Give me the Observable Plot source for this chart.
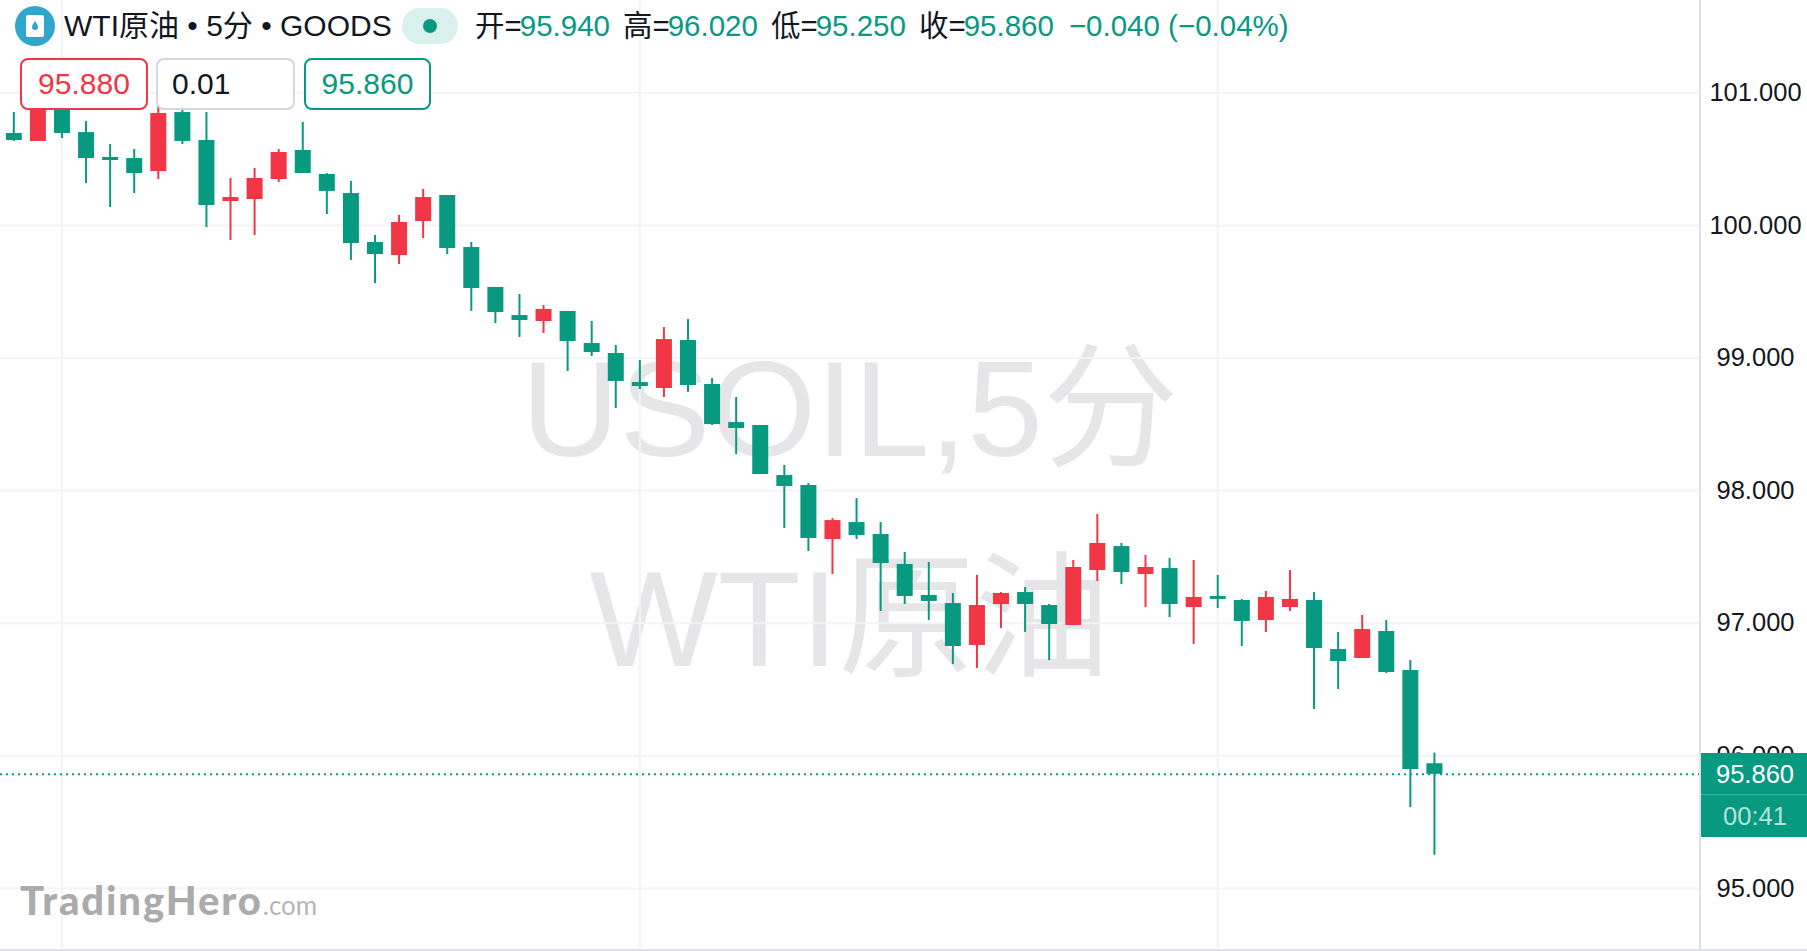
<!DOCTYPE html>
<html><head><meta charset="utf-8">
<script src="https://cdn.jsdelivr.net/npm/d3@7"></script>
<script src="https://cdn.jsdelivr.net/npm/@observablehq/plot@0.6"></script>
<style>
html,body{margin:0;padding:0;background:#fff;overflow:hidden}
#root{position:relative;width:1807px;height:951px;font-family:"Liberation Sans","Noto Sans CJK SC",sans-serif;overflow:hidden}
#root>*{position:absolute}
.wm{color:#e6e6e8;font-size:136px;line-height:136px;white-space:nowrap;z-index:0;left:0;width:1700px;text-align:center}
#chart{left:0;top:0;z-index:1}
.hdr{font-size:29.5px;line-height:36px;white-space:nowrap;z-index:2;color:#131722}
.hdr i{font-style:normal;margin-left:13px}
.hdr .n{margin-left:-2px}
.g{color:#089981}
.box{z-index:2;box-sizing:border-box;height:52px;border-radius:8px;border:2px solid;font-size:30px;line-height:48px;background:#fff;top:58px}
</style></head><body><div id="root">
<div class="wm" style="top:341px">USOIL,5分</div>
<div class="wm" style="top:551px">WTI原油</div>
<div id="chart"></div>
<svg style="left:15px;top:6px;z-index:2" width="40" height="40" viewBox="0 0 40 40"><circle cx="20" cy="20" r="20" fill="#2fa6cc"/><rect x="11" y="9" width="18" height="22" rx="2" fill="#fff"/><path d="M20 15c2 3 3 4.500 3 6a3 3 0 0 1-6 0c0-1.500 1-3 3-6z" fill="#2fa6cc"/></svg>
<div class="hdr" style="left:64px;top:8px;font-size:30px">WTI原油 • 5分 • GOODS</div>
<div style="left:402px;top:8px;width:56px;height:36px;border-radius:18px;background:#d9f0ec;z-index:2"></div>
<div style="left:423px;top:19px;width:14px;height:14px;border-radius:7px;background:#089981;z-index:2"></div>
<div class="hdr" style="left:475px;top:8px">开=<span class="g n">95.940</span><i>高=</i><span class="g n">96.020</span><i>低=</i><span class="g n">95.250</span><i>收=</i><span class="g n">95.860</span><i class="g" style="margin-left:15px">−0.040 (−0.04%)</i></div>
<div class="box" style="left:20px;width:128px;border-color:#f23645;color:#f23645;text-align:center">95.880</div>
<div class="box" style="left:156px;width:139px;border-color:#d6d6e2;color:#131722;padding-left:14px">0.01</div>
<div class="box" style="left:304px;width:127px;border-color:#089981;color:#089981;text-align:center">95.860</div>
<div style="left:1701px;top:753px;width:106px;height:41px;padding-left:2px;box-sizing:border-box;background:#089981;color:#fff;font-size:25.5px;line-height:42px;text-align:center;z-index:2">95.860</div>
<div style="left:1701px;top:794px;width:106px;height:43px;padding-left:2px;background:#089981;border-top:1px solid #3bb09b;box-sizing:border-box;color:#b5e2da;font-size:25.5px;line-height:42px;text-align:center;z-index:2">00:41</div>
<div style="left:20px;top:876px;z-index:2;white-space:nowrap;font-family:Lato,sans-serif;font-weight:900;font-size:40px;letter-spacing:1.9px;line-height:48px;color:#ababab">TradingHero<span style="font-size:26px;letter-spacing:0;font-weight:400;color:#b5b5b5">.com</span></div>
</div>
<script>
const grays = [2,26,50];
const priceTicks = [95,96,97,98,99,100,101];
const lastClose = 95.86;
// open, high, low, close for each bar
const opens  = [100.693,100.633,100.942,100.700,100.512,100.504,100.406,100.851,100.640,100.180,100.195,100.346,100.565,100.384,100.240,99.871,99.773,100.029,100.225,99.833,99.532,99.320,99.275,99.351,99.109,99.034,98.815,98.770,99.132,98.800,98.513,98.491,98.114,98.038,97.631,97.759,97.669,97.443,97.209,97.148,96.832,97.141,97.231,97.133,96.982,97.397,97.578,97.367,97.412,97.118,97.201,97.171,97.020,97.118,97.171,96.801,96.734,96.937,96.643,95.940];
const highs  = [100.851,100.972,100.972,100.783,100.610,100.572,100.897,100.897,100.851,100.354,100.429,100.572,100.776,100.391,100.331,99.924,100.075,100.271,100.225,99.871,99.532,99.479,99.396,99.351,99.275,99.094,98.981,99.230,99.290,98.845,98.702,98.491,98.189,98.053,97.789,97.940,97.759,97.533,97.458,97.224,97.360,97.231,97.269,97.141,97.473,97.820,97.601,97.510,97.488,97.473,97.360,97.179,97.239,97.397,97.231,96.930,97.058,97.020,96.718,96.020];
const lows   = [100.633,100.633,100.655,100.316,100.135,100.240,100.346,100.610,99.984,99.886,99.924,100.323,100.391,100.082,99.735,99.562,99.705,99.901,99.780,99.351,99.260,99.155,99.185,98.898,99.011,98.619,98.762,98.702,98.740,98.491,98.272,98.121,97.714,97.541,97.367,97.631,97.088,97.141,97.020,96.688,96.658,96.960,96.930,96.718,96.982,97.314,97.292,97.118,97.043,96.839,97.111,96.824,96.930,97.088,96.349,96.500,96.734,96.620,95.610,95.250];
const closes = [100.640,100.942,100.693,100.504,100.489,100.391,100.844,100.633,100.150,100.210,100.354,100.550,100.391,100.256,99.863,99.780,100.022,100.210,99.826,99.524,99.343,99.283,99.366,99.124,99.041,98.823,98.785,99.139,98.792,98.498,98.468,98.121,98.031,97.639,97.774,97.661,97.450,97.201,97.164,96.824,97.133,97.224,97.141,96.990,97.420,97.601,97.382,97.420,97.141,97.194,97.179,97.013,97.194,97.179,96.809,96.711,96.952,96.628,95.897,95.860];
const green = "#089981", red = "#f23645", grid = "#f3f3f8", edge = "#e0e0ea";
const bars = opens.map((o,i)=>({i,o,h:highs[i],l:lows[i],c:closes[i],col:closes[i]>o?red:green}));
const plot = Plot.plot({
  width:1807,height:951,margin:0,marginRight:107,
  style:{background:"transparent",fontFamily:'"Liberation Sans",sans-serif',fontSize:"25.5px",color:"#131722"},
  x:{domain:[-0.553,70.05],axis:null},
  y:{domain:[94.524,101.696]},
  marks:[
    Plot.ruleY(priceTicks,{stroke:grid,strokeWidth:2}),
    Plot.ruleX(grays,{stroke:grid,strokeWidth:2}),
    Plot.ruleY([lastClose],{stroke:green,strokeWidth:2,strokeDasharray:"2,4"}),
    Plot.axisY({anchor:"right",ticks:priceTicks,tickSize:0,tickPadding:10,tickFormat:d3.format(".3f"),label:null,textAnchor:"middle",dx:45}),
    Plot.ruleX(bars,{x:"i",y1:"l",y2:"h",stroke:"col",strokeWidth:2}),
    Plot.ruleX(bars,{x:"i",y1:"o",y2:"c",stroke:"col",strokeWidth:16})
  ]
});
document.getElementById("chart").append(plot);
const root=document.getElementById("root");
const v=document.createElement("div");v.style.cssText="left:1699px;top:0;width:2px;height:951px;background:"+edge+";z-index:1";root.append(v);
const b=document.createElement("div");b.style.cssText="left:0;top:949px;width:1807px;height:2px;background:"+edge+";z-index:1";root.append(b);
</script></body></html>
